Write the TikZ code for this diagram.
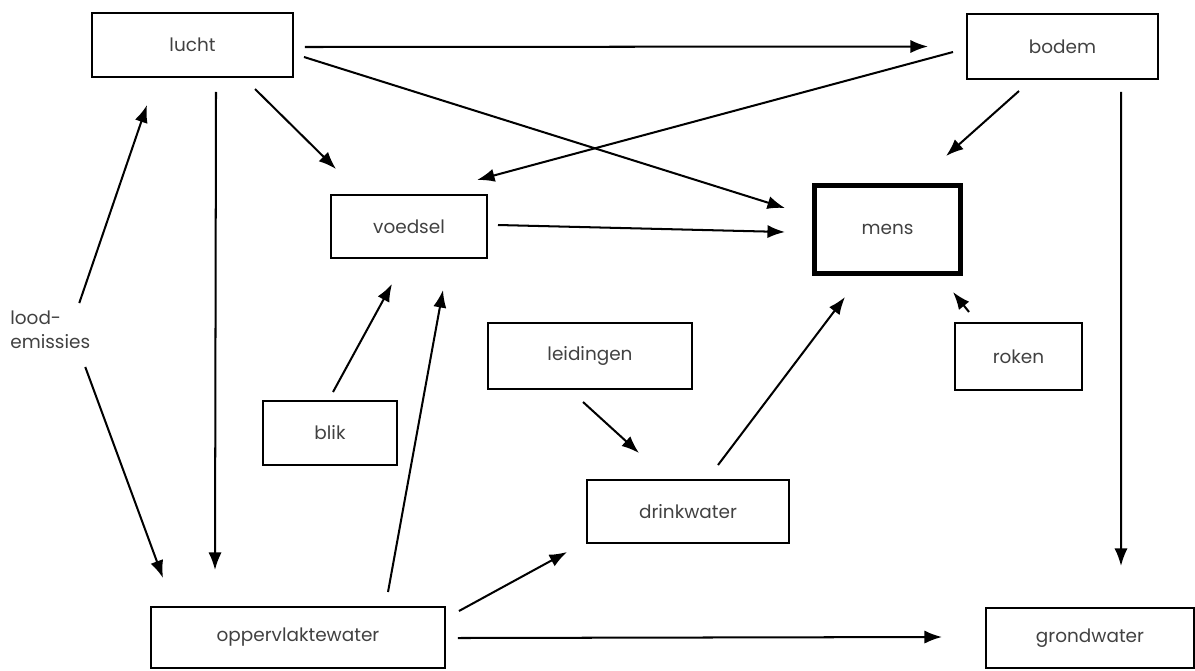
\documentclass[tikz,border=0pt]{standalone}
\usepackage{fontspec}
\setmainfont{Poppins}
\usetikzlibrary{arrows.meta}
\definecolor{txtgray}{RGB}{65,65,65}
\begin{document}
\begin{tikzpicture}[
    x=0.02cm, y=-0.02cm,
    box/.style={rectangle, draw, line width=1.1pt, outer sep=0pt, text=txtgray, font=\fontsize{10.5}{12}\selectfont},
    arrow/.style={-{Latex[length=10pt, width=7.5pt]}, line width=1.15pt},
]
\useasboundingbox (0,0) rectangle (1195,670);

% Sources
\node[box, minimum width=4.02cm, minimum height=1.28cm] (lucht) at (192.5,45) {lucht};
\node[box, minimum width=3.82cm, minimum height=1.30cm] (bodem) at (1062.5,46.5) {bodem};
\node[text=txtgray, font=\fontsize{10.5}{13.7}\selectfont, align=left, inner sep=0pt, anchor=west] (lood) at (10,330) {lood-\\emissies};

% Middle
\node[box, minimum width=3.12cm, minimum height=1.26cm] (voedsel) at (409,226.5) {voedsel};
\node[box, line width=2.9pt, minimum width=2.92cm, minimum height=1.76cm] (mens) at (887.5,229.5) {mens};
\node[box, minimum width=2.54cm, minimum height=1.34cm] (roken) at (1018.5,356.5) {roken};
\node[box, minimum width=4.08cm, minimum height=1.32cm] (leidingen) at (590,356) {leidingen};
\node[box, minimum width=2.68cm, minimum height=1.28cm] (blik) at (330,433) {blik};
\node[box, minimum width=4.04cm, minimum height=1.26cm] (drinkwater) at (688,511.5) {drinkwater};

% Water
\node[box, minimum width=5.88cm, minimum height=1.22cm] (opp) at (298,637.5) {oppervlaktewater};
\node[box, minimum width=4.16cm, minimum height=1.20cm] (grond) at (1090,638) {grondwater};

% Arrows
\draw[arrow] ([shift={(12,2)}]lucht.east) -- ([shift={(-39,0)}]bodem.west);
\draw[arrow] ([shift={(11,12)}]lucht.east) -- ([shift={(-29.5,-21.5)}]mens.west);
\draw[arrow] ([shift={(62.5,12)}]lucht.south) -- ([shift={(-73,-26)}]voedsel.north);
\draw[arrow] ([shift={(23.5,15)}]lucht.south) -- ([shift={(-83,-37)}]opp.north);
\draw[arrow] ([shift={(-14,5.5)}]bodem.west) -- ([shift={(68,-15)}]voedsel.north);
\draw[arrow] ([shift={(-43.5,12)}]bodem.south) -- ([shift={(58.5,-29.5)}]mens.north);
\draw[arrow] ([shift={(58.5,13)}]bodem.south) -- ([shift={(31,-42)}]grond.north);
\draw[arrow] ([shift={(29,-27)}]lood.center) -- ([shift={(-45.5,28)}]lucht.south);
\draw[arrow] ([shift={(35,37)}]lood.center) -- ([shift={(-135,-29)}]opp.north);
\draw[arrow] ([shift={(11,-1.5)}]voedsel.east) -- ([shift={(-29.5,2.5)}]mens.west);
\draw[arrow] ([shift={(3,-9)}]blik.north) -- ([shift={(-17,26)}]voedsel.south);
\draw[arrow] ([shift={(90,-15)}]opp.north) -- ([shift={(34,32)}]voedsel.south);
\draw[arrow] ([shift={(-7,13)}]leidingen.south) -- ([shift={(-49,-27)}]drinkwater.north);
\draw[arrow] ([shift={(30,-15)}]drinkwater.north) -- ([shift={(-42.5,23.5)}]mens.south);
\draw[arrow] ([shift={(-49.5,-11)}]roken.north) -- ([shift={(65.5,18.5)}]mens.south);
\draw[arrow] ([shift={(14,-26.5)}]opp.east) -- ([shift={(-20,40.5)}]drinkwater.west);
\draw[arrow] ([shift={(13,0.5)}]opp.east) -- ([shift={(-44,-1)}]grond.west);
\end{tikzpicture}
\end{document}
